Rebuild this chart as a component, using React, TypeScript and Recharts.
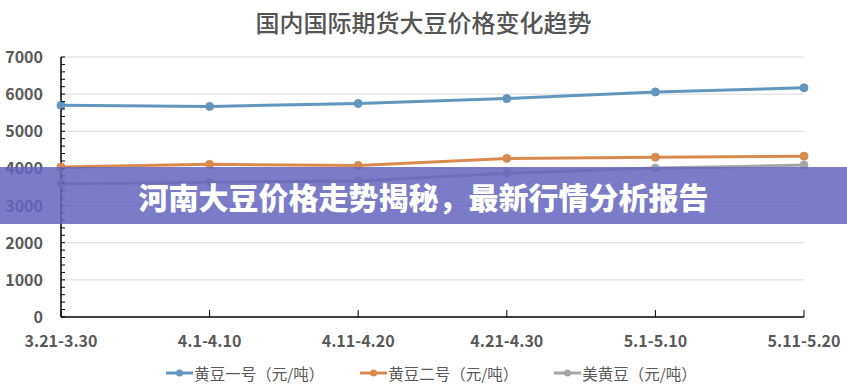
import React from 'react';
import { LineChart, Line, XAxis, YAxis, CartesianGrid } from 'recharts';

document.body.style.margin = '0';

const categories = ['3.21-3.30', '4.1-4.10', '4.11-4.20', '4.21-4.30', '5.1-5.10', '5.11-5.20'];
const soy1 = [5700, 5670, 5750, 5880, 6060, 6170];
const soy2 = [4040, 4110, 4080, 4270, 4300, 4330];
const usSoy = [3590, 3630, 3660, 3870, 4010, 4090];
const yTicks = Array.from({ length: 36 }, (_, i) => i * 200);
const gridValues = [1000, 2000, 3000, 4000, 5000, 6000, 7000];

const series = [
  { key: 'soy1', name: '黄豆一号（元/吨）', color: '#6296bd' },
  { key: 'soy2', name: '黄豆二号（元/吨）', color: '#d98a4e' },
  { key: 'us', name: '美黄豆（元/吨）', color: '#a5a5a5' },
];

const data = categories.map((c, i) => ({ cat: c, soy1: soy1[i], soy2: soy2[i], us: usSoy[i] }));

const FONT = '"Noto Sans CJK SC", "Noto Sans", sans-serif';

const YTick = (props: any) => {
  const { x, y, payload } = props;
  const major = payload.value % 1000 === 0;
  return (
    <g>
      <line x1={x} x2={x + 4} y1={y} y2={y} stroke="#000" strokeWidth={1} />
      {major && (
        <text x={x - 18} y={y} dy={6} textAnchor="end" fill="#595959" fontSize={16} fontWeight="bold" fontFamily={FONT}>
          {payload.value}
        </text>
      )}
    </g>
  );
};

const XTick = (props: any) => {
  const { x, y, payload } = props;
  return (
    <g>
      <line x1={x} x2={x} y1={y} y2={y - 7} stroke="#000" strokeWidth={1} />
      <text x={x} y={y + 30} textAnchor="middle" fill="#595959" fontSize={16} fontWeight="bold" fontFamily={FONT}>
        {payload.value}
      </text>
    </g>
  );
};

export default function App() {
  return (
    <div style={{ position: 'relative', width: 847, height: 392, background: '#fff', overflow: 'hidden' }}>
      <div
        style={{
          position: 'absolute', top: 6, left: 0, width: 847, textAlign: 'center',
          fontFamily: FONT, fontSize: 24, fontWeight: 500, color: '#555', lineHeight: '32px',
        }}
      >
        国内国际期货大豆价格变化趋势
      </div>
      <LineChart width={847} height={392} data={data} margin={{ top: 57, right: 43, bottom: 45, left: 0 }}>
        <CartesianGrid vertical={false} horizontalValues={gridValues} stroke="#d9d9d9" />
        <XAxis
          dataKey="cat"
          height={30}
          interval={0}
          tickSize={0}
          tickMargin={0}
          tick={<XTick />}
          axisLine={{ stroke: '#000', strokeWidth: 1.5 }}
          tickLine={false}
        />
        <YAxis
          width={61}
          domain={[0, 7000]}
          ticks={yTicks}
          interval={0}
          tickSize={0}
          tickMargin={0}
          tick={<YTick />}
          axisLine={{ stroke: '#000', strokeWidth: 1.5 }}
          tickLine={false}
        />
        {series.map((s) => (
          <Line
            key={s.key}
            type="linear"
            dataKey={s.key}
            name={s.name}
            stroke={s.color}
            strokeWidth={3}
            dot={{ r: 4, fill: s.color, stroke: s.color, strokeWidth: 1 }}
            isAnimationActive={false}
          />
        ))}
      </LineChart>
      <div
        style={{
          position: 'absolute', top: 167, left: 0, width: 847, height: 57,
          background: 'rgba(100, 100, 190, 0.85)', display: 'flex', alignItems: 'center', justifyContent: 'center',
          fontFamily: FONT, fontSize: 30, fontWeight: 900, color: '#fff',
        }}
      >
        河南大豆价格走势揭秘，最新行情分析报告
      </div>
      <div
        style={{
          position: 'absolute', top: 362, left: 8, width: 847, display: 'flex', justifyContent: 'center',
          gap: 36, fontFamily: FONT, fontSize: 15.5, color: '#595959', lineHeight: '22px',
        }}
      >
        {series.map((s) => (
          <div key={s.key} style={{ display: 'flex', alignItems: 'center' }}>
            <svg width={27} height={10} style={{ marginRight: 1 }}>
              <line x1={0} x2={27} y1={5} y2={5} stroke={s.color} strokeWidth={3} />
              <circle cx={13.5} cy={5} r={3.5} fill={s.color} />
            </svg>
            <span>{s.name}</span>
          </div>
        ))}
      </div>
    </div>
  );
}
